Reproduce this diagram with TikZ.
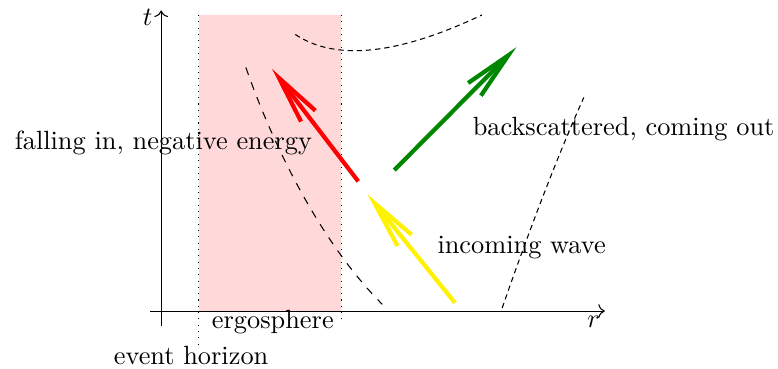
\documentclass[tikz,border=0pt]{standalone}
\usepackage{amsmath}
\usepackage[dvipsnames]{xcolor}
\usepackage{tikz}
\usetikzlibrary{arrows.meta,positioning}

\begin{document}
\begin{tikzpicture}[>=To,
  wave/.style={line width=1.6pt, -{Straight Barb[length=0.64cm,width=0.24cm]}},
  world/.style={dash pattern=on 2pt off 1.5pt}]
  \useasboundingbox (-2.15,-0.77) rectangle (8.23,4.15);

  % Ergosphere, between horizon and static limit
  \fill[red!15] (0.5,0) rectangle (2.4,3.95);
  \draw[dotted] (0.5,3.95) -- (0.5,-0.45);   % horizon
  \draw[dotted] (2.4,3.95) -- (2.4,-0.15);   % static limit

  % Axes
  \draw[->] (-0.15,0) -- (5.92,0);
  \draw[->] (0,-0.2) -- (0,4.01);
  \node (tlab) at (-0.18,3.92) {$t$};
  \node (rlab) at (5.77,-0.15) {$r$};

  % Worldlines
  \draw[dashed] (1.13,3.25) .. controls (1.55,2.05) and (2.2,0.84) .. (2.95,0.09);
  \draw[world] (1.79,3.69) .. controls (2.33,3.33) and (3.16,3.42) .. (4.28,3.95);
  \draw[world] (4.55,0.04) .. controls (4.9,1.05) and (5.3,2.1) .. (5.64,2.85);

  % --- Waves ---
  \coordinate (inA) at (3.92,0.11);
  \coordinate (inB) at (2.75,1.56);
  \coordinate (fallA) at (2.63,1.73);
  \coordinate (fallB) at (1.48,3.23);
  \coordinate (outA) at (3.11,1.88);
  \coordinate (outB) at (4.74,3.52);
  \draw[wave, yellow] (inA) -- (inB);
  \draw[wave, red] (fallA) -- (fallB);
  \draw[wave, green!53!black] (outA) -- (outB);

  % --- Labels ---
  \node (fall) at (0.03,2.24) {falling in, negative energy};
  \node (back) at (6.17,2.43) {backscattered, coming out};
  \node (inc) at (4.81,0.85) {incoming wave};
  \node (ergo) at (1.49,-0.15) {ergosphere};
  \node (hor) at (0.4,-0.59) {event horizon};
\end{tikzpicture}
\end{document}
